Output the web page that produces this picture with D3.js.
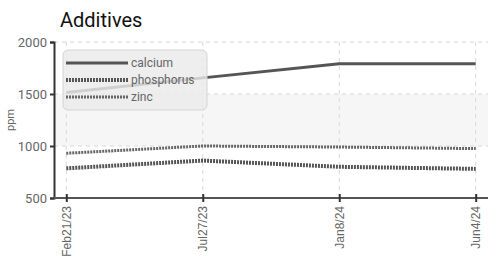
<!DOCTYPE html>
<html>
<head>
<meta charset="utf-8">
<script src="https://cdn.jsdelivr.net/npm/d3@7"></script>
<style>
  body { margin: 0; background: #fff; }
  svg { display: block; font-family: Roboto, "DejaVu Sans", sans-serif; }
</style>
</head>
<body>
<svg id="chart" width="496" height="256"></svg>
<script>
var dates = ["Feb21/23", "Jul27/23", "Jan8/24", "Jun4/24"];
var calcium = [1515, 1655, 1790, 1790];
var phosphorus = [785, 860, 800, 780];
var zinc = [930, 1000, 990, 975];
var yTicks = [500, 1000, 1500, 2000];
var seriesNames = ["calcium", "phosphorus", "zinc"];

var W = 496, H = 256;
var margin = { top: 42, right: 8, bottom: 58, left: 54 };
var svg = d3.select('#chart');

var x = d3.scalePoint()
    .domain(dates)
    .range([margin.left, W - margin.right])
    .padding(0.09);
var y = d3.scaleLinear()
    .domain([500, 2000])
    .range([H - margin.bottom, margin.top]);

// highlight band 1000-1500
svg.append("rect")
    .attr("x", margin.left)
    .attr("y", y(1500))
    .attr("width", W - margin.right - margin.left)
    .attr("height", y(1000) - y(1500))
    .style("fill", "#f6f6f6");

// grid
svg.append("g").selectAll("line")
    .data(yTicks.slice(1))
    .enter().append("line")
    .attr("x1", margin.left).attr("x2", W - margin.right)
    .attr("y1", function (d) { return y(d); })
    .attr("y2", function (d) { return y(d); })
    .style("stroke", "#d8d8d8")
    .style("stroke-dasharray", "4,4");
svg.append("g").selectAll("line")
    .data(dates)
    .enter().append("line")
    .attr("x1", function (d) { return x(d); })
    .attr("x2", function (d) { return x(d); })
    .attr("y1", margin.top).attr("y2", H - margin.bottom)
    .style("stroke", "#d8d8d8")
    .style("stroke-dasharray", "4,4");

// axes
var yAxis = svg.append("g")
    .attr("transform", "translate(" + margin.left + ",0)")
    .call(d3.axisLeft(y).tickValues(yTicks).tickFormat(d3.format("d")).tickSize(4).tickPadding(3));
var xAxis = svg.append("g")
    .attr("transform", "translate(0," + (H - margin.bottom) + ")")
    .call(d3.axisBottom(x).tickSize(4).tickSizeOuter(0));
yAxis.select(".domain").style("stroke", "#333").style("stroke-width", 2);
xAxis.select(".domain").style("stroke", "#555").style("stroke-width", 2)
    .attr("d", "M" + margin.left + ",0H" + (W - margin.right));
yAxis.selectAll(".tick line").style("stroke", "#333").style("stroke-width", 2);
xAxis.selectAll(".tick line").style("stroke", "#333").style("stroke-width", 2)
    .attr("y1", -4).attr("y2", 4);
yAxis.selectAll("text").style("font-size", "13px").style("fill", "#666")
    .style("font-family", "Roboto, sans-serif");
xAxis.selectAll("text")
    .style("font-size", "12px").style("fill", "#666")
    .style("text-anchor", "end")
    .attr("transform", "rotate(-90)")
    .attr("x", -8).attr("y", 0).attr("dy", "0.35em");

svg.append("text")
    .attr("transform", "translate(14," + ((margin.top + H - margin.bottom) / 2) + ") rotate(-90)")
    .style("text-anchor", "middle")
    .style("font-size", "11px").style("fill", "#666")
    .text("ppm");

svg.append("text")
    .attr("x", 60).attr("y", 27)
    .style("font-size", "20px").style("fill", "#111")
    .text("Additives");

// lines
var line = d3.line()
    .x(function (d, i) { return x(dates[i]); })
    .y(function (d) { return y(d); });
var styles = [
    { data: calcium, width: 3, dash: null, color: "#555" },
    { data: phosphorus, width: 4, dash: "2,1", color: "#555" },
    { data: zinc, width: 3, dash: "2,1", color: "#666" }
];
styles.forEach(function (s) {
    svg.append("path")
        .attr("d", line(s.data))
        .style("fill", "none")
        .style("stroke", s.color)
        .style("stroke-width", s.width)
        .style("stroke-dasharray", s.dash);
});

// legend
var lg = svg.append("g");
lg.append("rect")
    .attr("x", 63).attr("y", 50)
    .attr("width", 144).attr("height", 60)
    .attr("rx", 5).attr("ry", 5)
    .style("fill", "#eaeaea").style("fill-opacity", 0.82)
    .style("stroke", "#d4d4d4");
seriesNames.forEach(function (n, i) {
    var yy = 63 + i * 17;
    lg.append("line")
        .attr("x1", 66).attr("x2", 128)
        .attr("y1", yy).attr("y2", yy)
        .style("stroke", styles[i].color)
        .style("stroke-width", styles[i].width)
        .style("stroke-dasharray", styles[i].dash);
    lg.append("text")
        .attr("x", 131).attr("y", yy).attr("dy", "0.35em")
        .style("font-size", "12px").style("fill", "#666")
        .text(n);
});
</script>
</body>
</html>
